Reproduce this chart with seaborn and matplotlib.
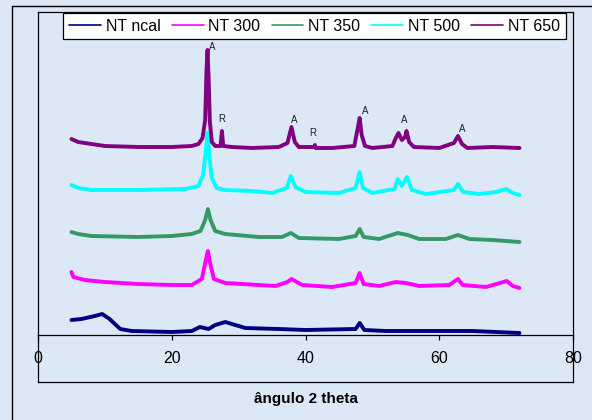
import matplotlib
matplotlib.use("Agg")
import matplotlib.pyplot as plt
from matplotlib.lines import Line2D
import numpy as np
import pandas as pd
import seaborn as sns

# 2-theta positions and intensities (arbitrary units, already stacked)
x_ncal = [5, 6.5, 8.5, 9.6, 10.7, 12.3, 14, 20, 23, 24.2, 25.5, 26.5, 28.0, 29.5, 31,
          36, 40, 47.5, 48.1, 48.8, 52, 60, 65, 72]
y_ncal = [15, 16, 19, 21, 16, 6, 4, 3, 4, 8, 6, 10, 13, 10, 7,
          6, 5, 6, 12, 5, 4, 4, 4, 2]

x_300 = [5, 5.3, 7, 10, 15, 20, 23, 24.5, 25.1, 25.4, 25.7, 26.3, 28, 33, 35.5, 37.3,
         37.9, 39.5, 44, 47.5, 48.1, 48.7, 51, 53.5, 55, 57, 61.5, 62.8, 63.5, 67,
         70.1, 71, 72]
y_300 = [63, 58, 55, 53, 51, 50, 50, 56, 75, 84, 73, 56, 52, 50, 49, 53,
         56, 50, 48, 52, 62, 51, 49, 53, 52, 49, 50, 56, 50, 48,
         54, 49, 47]

x_350 = [5, 6, 8, 15, 20, 23, 24.3, 25.0, 25.4, 25.8, 26.5, 28, 33, 36.5, 37.8, 39,
         45, 47.5, 48.1, 48.7, 51, 53.8, 55.3, 57, 61, 62.8, 64.5, 68, 72]
y_350 = [103, 101, 99, 98, 99, 101, 104, 115, 126, 115, 104, 101, 98, 98, 102, 97,
         96, 99, 106, 98, 96, 102, 100, 96, 96, 100, 96, 95, 93]

x_500 = [5, 6, 8, 15, 22, 24, 24.7, 25.1, 25.35, 25.6, 26.0, 26.7, 28, 32, 35, 37.2,
         37.8, 38.5, 40, 45, 47.5, 48.1, 48.6, 50, 53.3, 53.8, 54.4, 55.2, 55.9, 58,
         62.2, 62.8, 63.6, 66, 68.5, 70, 71, 72]
y_500 = [150, 147, 145, 145, 146, 149, 160, 185, 202, 180, 157, 147, 145, 144, 142, 147,
         159, 148, 143, 142, 147, 163, 147, 142, 146, 156, 149, 158, 145, 141,
         145, 151, 143, 141, 143, 146, 142, 140]

x_650 = [5, 6, 8, 10, 15, 20, 23, 24, 24.6, 25.0, 25.2, 25.35, 25.5, 25.7, 26.0, 26.5,
         27.3, 27.5, 27.7, 29, 32, 36, 37.3, 37.9, 38.4, 39, 41.3, 41.4, 41.5, 44,
         47.3, 47.9, 48.1, 48.4, 48.9, 50, 53, 53.5, 53.9, 54.4, 54.9, 55.1, 55.5,
         56.2, 60, 62.2, 62.8, 63.4, 64.2, 68, 72]
y_650 = [196, 193, 191, 189, 188, 188, 189, 191, 197, 215, 265, 285, 260, 213, 193, 189,
         189, 204, 189, 188, 187, 188, 192, 208, 193, 188, 188, 190, 187, 187,
         189, 210, 217, 200, 189, 187, 189, 197, 202, 195, 198, 204, 193,
         188, 187, 192, 199, 191, 187, 188, 187]

labels = ["NT ncal", "NT 300", "NT 350", "NT 500", "NT 650"]
colors = ["#000080", "#ff00ff", "#339966", "#00ffff", "#800080"]

# peak marks: A = anatase, R = rutile
mark_text = ["A", "R", "A", "R", "A", "A", "A"]
mark_x = [26.0, 27.5, 38.3, 41.1, 49.0, 54.7, 63.4]
mark_y = [288, 216, 215, 202, 224, 215, 206]

series = [(x_ncal, y_ncal), (x_300, y_300), (x_350, y_350), (x_500, y_500), (x_650, y_650)]
frames = []
for lab, (xs, ys) in zip(labels, series):
    frames.append(pd.DataFrame({"theta": xs, "intensity": ys, "amostra": lab}))
df = pd.concat(frames, ignore_index=True)

sns.set_style("white")
plt.rcParams["font.family"] = ["Liberation Sans", "DejaVu Sans"]
plt.rcParams["text.color"] = "black"

bg = "#dce8f6"
fig = plt.figure(figsize=(5.92, 4.2), dpi=100, facecolor=bg)
ax = fig.add_axes([38 / 592, 1 - 382 / 420, (573 - 38) / 592, (382 - 12) / 420])
ax.set_facecolor("none")

sns.lineplot(data=df, x="theta", y="intensity", hue="amostra", hue_order=labels,
             palette=colors, estimator=None, linewidth=2.8, ax=ax)

for t, xx, yy in zip(mark_text, mark_x, mark_y):
    ax.text(xx, yy, t, fontsize=7, ha="center", va="center", color="#222222")

ax.set_xlim(0, 80)
ax.set_ylim(-47, 323)
ax.set_xticks([0, 20, 40, 60, 80])
ax.set_yticks([])
ax.set_xlabel("ângulo 2 theta", fontsize=11, fontweight="bold", labelpad=19, color="black")
ax.set_ylabel("")

for s in ["top", "left", "right"]:
    ax.spines[s].set_color("black")
    ax.spines[s].set_linewidth(0.9)
ax.spines["bottom"].set_position(("data", 0))
ax.spines["bottom"].set_color("black")
ax.spines["bottom"].set_linewidth(0.9)
ax.add_line(Line2D([0, 1], [0, 0], transform=ax.transAxes, color="black",
                   linewidth=0.9, clip_on=False))
ax.tick_params(axis="x", direction="out", length=3.6, width=0.9, pad=8,
               labelsize=11.5, bottom=True, color="black", labelcolor="black")

# outer chart frame
fig.add_artist(Line2D([12 / 592, 12 / 592], [0, 1 - 6 / 420], transform=fig.transFigure,
                      color="black", linewidth=1))
fig.add_artist(Line2D([12 / 592, 1], [1 - 6 / 420, 1 - 6 / 420], transform=fig.transFigure,
                      color="black", linewidth=1))

ax.get_legend().remove()
handles = [Line2D([], [], color=c, linewidth=1.2) for c in colors]
leg = fig.legend(handles, labels, loc="upper center", ncol=5,
                 bbox_to_anchor=(314.5 / 592, 1 - 13 / 420), bbox_transform=fig.transFigure,
                 fontsize=11.5, frameon=True, fancybox=False, borderaxespad=0,
                 handlelength=2.0, handletextpad=0.3, columnspacing=0.7, borderpad=0.35,
                 labelcolor="black")
leg.get_frame().set_edgecolor("black")
leg.get_frame().set_linewidth(0.9)
leg.get_frame().set_facecolor("white")
leg.get_frame().set_alpha(1)

fig.savefig("out.png", dpi=100, facecolor=bg)
